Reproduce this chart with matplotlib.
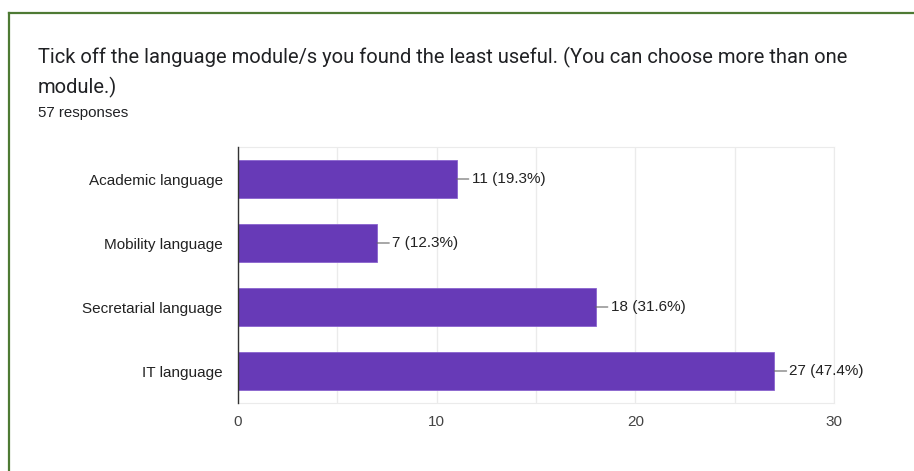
import matplotlib.pyplot as plt

# data
categories = ["Academic language", "Mobility language", "Secretarial language", "IT language"]
counts = [11, 7, 18, 27]
total_responses = 57
x_ticks = [0, 10, 20, 30]

title_lines = ["Tick off the language module/s you found the least useful. (You can choose more than one",
               "module.)"]
subtitle = f"{total_responses} responses"

plt.rcParams['font.family'] = ['Liberation Sans', 'DejaVu Sans']

W, H = 914, 471
fig = plt.figure(figsize=(W / 100, H / 100), dpi=100)

# green frame (left and top edges only)
frame_color = '#4e7a34'
fig.add_artist(plt.Line2D([8.5 / W, 8.5 / W], [0, 1 - 12.5 / H], transform=fig.transFigure,
                          color=frame_color, lw=1.6))
fig.add_artist(plt.Line2D([8.5 / W, 1], [1 - 12.5 / H, 1 - 12.5 / H], transform=fig.transFigure,
                          color=frame_color, lw=1.6))

title_font = ['Roboto', 'DejaVu Sans']
fig.text(38 / W, 1 - 57 / H, title_lines[0], fontsize=14.5, color='#202124', va='center', family=title_font)
fig.text(38 / W, 1 - 87 / H, title_lines[1], fontsize=14.5, color='#202124', va='center', family=title_font)
fig.text(38 / W, 1 - 113 / H, subtitle, fontsize=10.8, color='#202124', va='center')

# plot area: x 238..834, y 147..403 px
ax = fig.add_axes([238 / W, 1 - 403 / H, (834 - 238) / W, (403 - 147) / H])
ypos = list(range(len(categories)))
ax.barh(ypos, counts, height=0.6, color='#673ab7', edgecolor='#8a63cf', linewidth=0.6, zorder=3)
ax.set_ylim(len(categories) - 0.5, -0.5)
ax.set_xlim(0, 30)

ax.set_xticks(x_ticks)
ax.set_xticks([5, 15, 25], minor=True)
ax.grid(axis='x', which='both', color='#ebebeb', lw=1, zorder=0)
ax.tick_params(axis='x', which='both', length=0, pad=9, labelsize=11, labelcolor='#444444')
ax.set_yticks(ypos)
ax.set_yticklabels(categories)
ax.tick_params(axis='y', length=0, pad=11, labelsize=11, labelcolor='#222222')

for side in ['top', 'right', 'bottom']:
    ax.spines[side].set_color('#ebebeb')
ax.spines['left'].set_color('#333333')
ax.spines['left'].set_linewidth(1.0)
ax.spines['left'].set_zorder(4)

for y, c in zip(ypos, counts):
    pct = c / total_responses * 100
    ax.annotate(f"{c} ({pct:.1f}%)", xy=(c, y), xytext=(15, 0), textcoords='offset pixels',
                va='center', ha='left', fontsize=11, color='#222222',
                arrowprops=dict(arrowstyle='-', color='#666666', lw=0.8,
                                shrinkA=0, shrinkB=0))

fig.savefig('out.png', dpi=100)
